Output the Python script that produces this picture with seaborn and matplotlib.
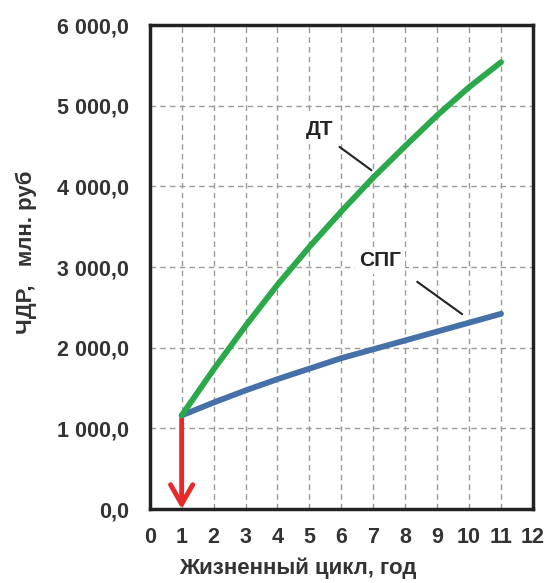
import matplotlib
matplotlib.use("Agg")
import matplotlib.pyplot as plt
import seaborn as sns
import pandas as pd
from matplotlib.ticker import FuncFormatter

years = [1, 2, 3, 4, 5, 6, 7, 8, 9, 10, 11]
dt_values = [1160, 1730, 2270, 2780, 3250, 3690, 4110, 4500, 4880, 5230, 5540]
spg_values = [1160, 1320, 1470, 1610, 1740, 1870, 1980, 2090, 2200, 2310, 2420]
series_names = ["ДТ", "СПГ"]
x_ticks = list(range(0, 13))
y_ticks = [0, 1000, 2000, 3000, 4000, 5000, 6000]

df = pd.DataFrame({
    "year": years * 2,
    "value": dt_values + spg_values,
    "series": [series_names[0]] * len(years) + [series_names[1]] * len(years),
})

sns.set_theme(style="white")
plt.rcParams["font.family"] = ["Liberation Sans", "DejaVu Sans"]
plt.rcParams["font.weight"] = "bold"

fig = plt.figure(figsize=(5.47, 5.83), dpi=100)
ax = fig.add_axes([0.2737, 0.1269, 0.7007, 0.8302])

ax.grid(True, which="major", color="#9a9a9a", linestyle=(0, (4, 3)), linewidth=1.0, zorder=0)
ax.set_axisbelow(True)

sns.lineplot(data=df, x="year", y="value", hue="series",
             palette={"ДТ": "#2BA84A", "СПГ": "#4571A8"},
             linewidth=4.2, legend=False, ax=ax, zorder=3,
             solid_capstyle="round", hue_order=["СПГ", "ДТ"])

# red arrow from start point down to zero
ax.annotate("", xy=(years[0], 0), xytext=(years[0], spg_values[0] - 40),
            arrowprops=dict(arrowstyle="->,head_length=0.7,head_width=0.4",
                            color="#E8282A", lw=3.5, shrinkA=0, shrinkB=0,
                            mutation_scale=20),
            zorder=2)

# labels with leader lines
ax.text(5.31, 4709, "ДТ", fontsize=15, fontweight="bold", ha="center", va="center",
        color="#222222", zorder=4, bbox=dict(facecolor="white", edgecolor="none", pad=3))
ax.plot([5.94, 6.94], [4490, 4200], color="#222222", lw=1.5, zorder=4)
ax.text(7.2, 3080, "СПГ", fontsize=15, fontweight="bold", ha="center", va="center",
        color="#222222", zorder=4, bbox=dict(facecolor="white", edgecolor="none", pad=3))
ax.plot([8.375, 9.78], [2817, 2416], color="#222222", lw=1.5, zorder=4)

ax.set_xlim(0, 12)
ax.set_ylim(0, 6000)
ax.set_xticks(x_ticks)
ax.set_yticks(y_ticks)
ax.yaxis.set_major_formatter(FuncFormatter(lambda v, p: f"{int(v):,}".replace(",", " ") + ",0"))

for s in ax.spines.values():
    s.set_color("#222222")
    s.set_linewidth(2.5)

ax.tick_params(axis="both", which="major", direction="out", length=5, width=2.5,
               color="#222222", labelcolor="#333333")
ax.tick_params(axis="x", labelsize=15.5, pad=8)
ax.tick_params(axis="y", labelsize=15.5, pad=10)
for lab in ax.get_xticklabels() + ax.get_yticklabels():
    lab.set_fontweight("bold")

ax.set_xlabel("Жизненный цикл, год", fontsize=16, fontweight="bold", color="#333333")
ax.set_ylabel("ЧДР,   млн. руб", fontsize=16, fontweight="bold", color="#333333")
ax.xaxis.set_label_coords(0.386, -0.101)
ax.yaxis.set_label_coords(-0.295, 0.53)

fig.savefig("out.png", dpi=100, facecolor="white")
